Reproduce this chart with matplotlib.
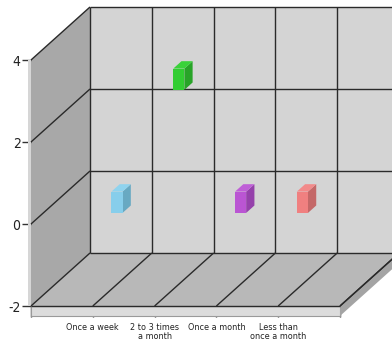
import matplotlib
matplotlib.use("Agg")
import matplotlib.pyplot as plt
from matplotlib.patches import Polygon

plt.rcParams['font.family'] = ['DejaVu Sans']
plt.rcParams['font.stretch'] = 'condensed'

categories = ['Once a week', '2 to 3 times\na month', 'Once a month', 'Less than\nonce a month']
values = [0, 3, 0, 0]
colors = ['#87ceeb', '#32cd32', '#ba55d3', '#f08080']
side_colors = ['#68a9c2', '#28a428', '#9541ab', '#c46868']
top_colors = ['#8fd3ee', '#3ad23a', '#bf5fd7', '#f28a8a']
yticks = [-2, 0, 2, 4]

fig = plt.figure(figsize=(3.92, 3.47), dpi=100)
ax = fig.add_axes([31 / 392, 41 / 347, 309 / 392, 246 / 347])
ax.set_xlim(0, 5)
ax.set_ylim(-2, 4)
ax.patch.set_visible(False)
for s in ax.spines.values():
    s.set_visible(False)

# depth vector of the box in data units
dx, dy = 0.955, 1.293
ymin, ymax = -2, 4
xmax = 5
line = dict(color='#2a2a2a', lw=1.0, clip_on=False, solid_capstyle='butt')


def poly(pts, fc, ec='none', z=1, lw=0.8):
    ax.add_patch(Polygon(pts, closed=True, fc=fc, ec=ec, lw=lw, zorder=z, clip_on=False))


# back wall, left wall, floor
poly([(dx, ymin + dy), (xmax + dx, ymin + dy), (xmax + dx, ymax + dy), (dx, ymax + dy)], '#d4d4d4', z=1)
poly([(0, ymin), (dx, ymin + dy), (dx, ymax + dy), (0, ymax)], '#a8a8a8', z=1)
poly([(0, ymin), (xmax, ymin), (xmax + dx, ymin + dy), (dx, ymin + dy)], '#b8b8b8', z=1)

# floor slab thickness
t = 0.244
poly([(0, ymin - t), (xmax, ymin - t), (xmax, ymin), (0, ymin)], '#dcdcdc', ec='#9a9a9a', z=2)
poly([(xmax, ymin - t), (xmax + dx, ymin - t + dy), (xmax + dx, ymin + dy), (xmax, ymin)], '#a4a4a4', z=2)
# left wall front edge
poly([(-0.05, ymin), (0, ymin), (0, ymax), (-0.05, ymax)], '#d6d6d6', z=2)

# grid on back wall
for v in yticks:
    ax.plot([dx, xmax + dx], [v + dy, v + dy], zorder=3, **line)
    ax.plot([0, dx], [v, v + dy], zorder=3, **line)
for i in range(1, 6):
    ax.plot([i + dx, i + dx], [ymin + dy, ymax + dy], zorder=3, **line)
    ax.plot([i, i + dx], [ymin, ymin + dy], zorder=3, **line)
ax.plot([dx, dx], [ymin + dy, ymax + dy], zorder=3, **line)
ax.plot([0, xmax], [ymin, ymin], zorder=3, **line)
ax.plot([xmax, xmax + dx], [ymin, ymin + dy], zorder=3, **line)

# cube markers
d0, w, h, dd = 0.41, 0.18, 0.52, 0.14
for i, (v, c, sc, tc) in enumerate(zip(values, colors, side_colors, top_colors), start=1):
    x0 = i + d0 * dx - w / 2
    x1 = x0 + w
    y0 = v - h / 2 + d0 * dy
    y1 = y0 + h
    ox, oy = dd * dx, dd * dy
    poly([(x1, y0), (x1 + ox, y0 + oy), (x1 + ox, y1 + oy), (x1, y1)], sc, z=5)
    poly([(x0, y1), (x1, y1), (x1 + ox, y1 + oy), (x0 + ox, y1 + oy)], tc, z=5)
    poly([(x0, y0), (x1, y0), (x1, y1), (x0, y1)], c, z=5)

ax.set_yticks(yticks)
ax.set_yticklabels([str(v) for v in yticks])
ax.tick_params(axis='y', direction='out', length=6.5, width=1, color='#333333',
               pad=1, labelsize=10, labelcolor='#222222')
ax.set_xticks(range(1, 5))
ax.set_xticklabels(categories, linespacing=1.1)
ax.set_xticks([0, 5], minor=True)
ax.tick_params(axis='x', which='both', direction='out', length=8, width=1, color='#333333',
               pad=4, labelsize=6.5, labelcolor='#222222')

fig.savefig('out.png', dpi=100)
